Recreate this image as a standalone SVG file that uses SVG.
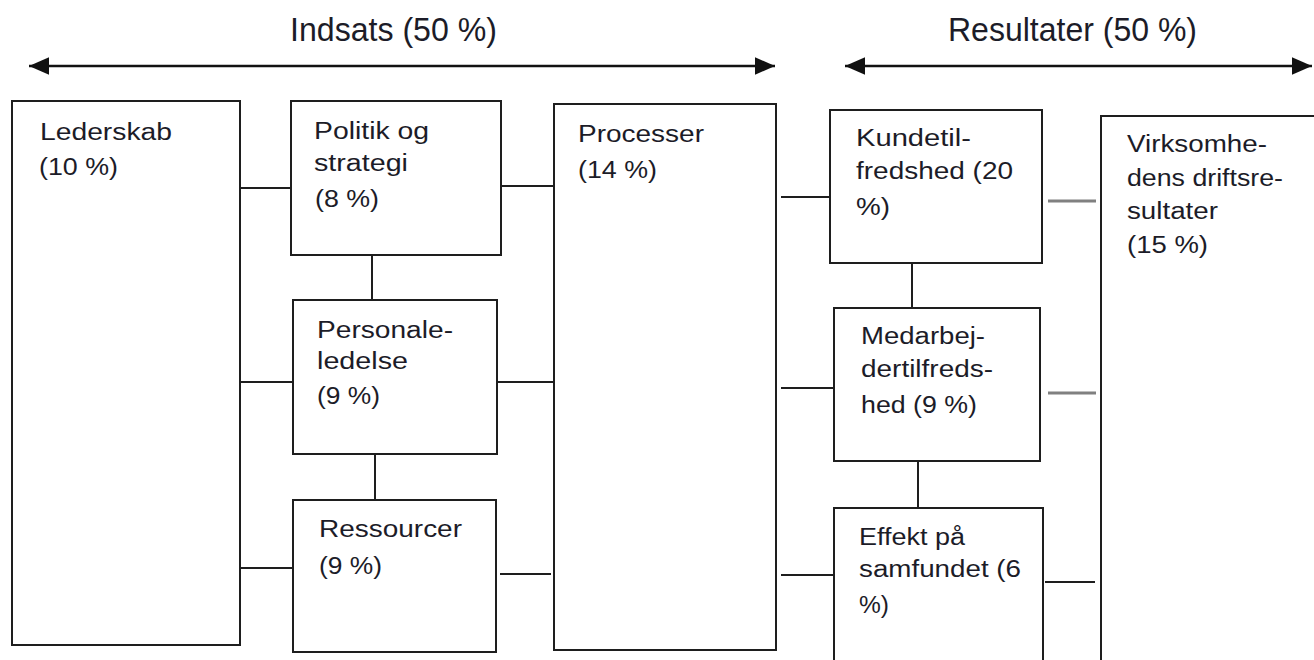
<svg xmlns="http://www.w3.org/2000/svg" width="1314" height="660" viewBox="0 0 1314 660">
<style>
.box{fill:#fff;stroke:#1e1e1e;stroke-width:2}
.t{font-family:"Liberation Sans",Arial,sans-serif;font-size:23px;fill:#1c1c28}
.h{font-family:"Liberation Sans",Arial,sans-serif;font-size:34px;fill:#1c1c28}
.c{stroke:#1e1e1e;stroke-width:2;fill:none}
.g{stroke:#808080;stroke-width:3;fill:none}
.a{stroke:#111;stroke-width:2.5;fill:none}
</style>
<defs>
<marker id="ah" viewBox="0 0 10 10" refX="10" refY="5" markerWidth="8" markerHeight="7" markerUnits="strokeWidth" orient="auto-start-reverse" preserveAspectRatio="none">
<path d="M0,0 L10,5 L0,10 z" fill="#111"/>
</marker>
</defs>
<rect width="1314" height="660" fill="#fff"/>

<g id="titles">
<text class="h" x="290" y="41" textLength="207" lengthAdjust="spacingAndGlyphs">Indsats (50 %)</text>
<text class="h" x="948" y="41" textLength="249" lengthAdjust="spacingAndGlyphs">Resultater (50 %)</text>
</g>

<g id="connectors">
<line class="a" x1="29" y1="66" x2="775" y2="66" marker-start="url(#ah)" marker-end="url(#ah)"/>
<line class="a" x1="845" y1="66" x2="1312" y2="66" marker-start="url(#ah)" marker-end="url(#ah)"/>
<line class="c" x1="240" y1="188" x2="291" y2="188"/>
<line class="c" x1="240" y1="382" x2="293" y2="382"/>
<line class="c" x1="240" y1="568" x2="293" y2="568"/>
<line class="c" x1="372" y1="255" x2="372" y2="300"/>
<line class="c" x1="375" y1="454" x2="375" y2="500"/>
<line class="c" x1="501" y1="186" x2="554" y2="186"/>
<line class="c" x1="497" y1="382" x2="554" y2="382"/>
<line class="c" x1="500" y1="574" x2="551" y2="574"/>
<line class="c" x1="781" y1="197" x2="830" y2="197"/>
<line class="c" x1="781" y1="388" x2="834" y2="388"/>
<line class="c" x1="781" y1="575" x2="834" y2="575"/>
<line class="c" x1="912" y1="263" x2="912" y2="308"/>
<line class="c" x1="918" y1="461" x2="918" y2="508"/>
<line class="g" x1="1048" y1="201" x2="1096" y2="201"/>
<line class="g" x1="1048" y1="393" x2="1096" y2="393"/>
<line class="c" x1="1045" y1="582" x2="1095" y2="582"/>
</g>

<g id="lederskab">
<rect class="box" x="12" y="101" width="228" height="544"/>
<text class="t" x="40" y="140" textLength="132" lengthAdjust="spacingAndGlyphs">Lederskab</text>
<text class="t" x="39" y="175" textLength="79" lengthAdjust="spacingAndGlyphs">(10 %)</text>
</g>

<g id="politik">
<rect class="box" x="291" y="101" width="210" height="154"/>
<text class="t" x="314" y="139" textLength="115" lengthAdjust="spacingAndGlyphs">Politik og</text>
<text class="t" x="314" y="171" textLength="94" lengthAdjust="spacingAndGlyphs">strategi</text>
<text class="t" x="315" y="207" textLength="64" lengthAdjust="spacingAndGlyphs">(8 %)</text>
</g>

<g id="personale">
<rect class="box" x="293" y="300" width="204" height="154"/>
<text class="t" x="317" y="338" textLength="136" lengthAdjust="spacingAndGlyphs">Personale-</text>
<text class="t" x="317" y="369" textLength="91" lengthAdjust="spacingAndGlyphs">ledelse</text>
<text class="t" x="317" y="404" textLength="63" lengthAdjust="spacingAndGlyphs">(9 %)</text>
</g>

<g id="ressourcer">
<rect class="box" x="293" y="500" width="203" height="152"/>
<text class="t" x="319" y="537" textLength="143" lengthAdjust="spacingAndGlyphs">Ressourcer</text>
<text class="t" x="319" y="574" textLength="63" lengthAdjust="spacingAndGlyphs">(9 %)</text>
</g>

<g id="processer">
<rect class="box" x="554" y="104" width="222" height="546"/>
<text class="t" x="578" y="142" textLength="126" lengthAdjust="spacingAndGlyphs">Processer</text>
<text class="t" x="578" y="178" textLength="79" lengthAdjust="spacingAndGlyphs">(14 %)</text>
</g>

<g id="kundetilfredshed">
<rect class="box" x="830" y="110" width="212" height="153"/>
<text class="t" x="856" y="146" textLength="115" lengthAdjust="spacingAndGlyphs">Kundetil-</text>
<text class="t" x="856" y="179" textLength="157" lengthAdjust="spacingAndGlyphs">fredshed (20</text>
<text class="t" x="856" y="215" textLength="34" lengthAdjust="spacingAndGlyphs">%)</text>
</g>

<g id="medarbejdertilfredshed">
<rect class="box" x="834" y="308" width="206" height="153"/>
<text class="t" x="861" y="344" textLength="124" lengthAdjust="spacingAndGlyphs">Medarbej-</text>
<text class="t" x="861" y="377" textLength="132" lengthAdjust="spacingAndGlyphs">dertilfreds-</text>
<text class="t" x="861" y="413" textLength="116" lengthAdjust="spacingAndGlyphs">hed (9 %)</text>
</g>

<g id="effekt">
<rect class="box" x="834" y="508" width="209" height="160"/>
<text class="t" x="859" y="545" textLength="106" lengthAdjust="spacingAndGlyphs">Effekt på</text>
<text class="t" x="859" y="577" textLength="162" lengthAdjust="spacingAndGlyphs">samfundet (6</text>
<text class="t" x="859" y="613" textLength="30" lengthAdjust="spacingAndGlyphs">%)</text>
</g>

<g id="virksomhedens">
<rect class="box" x="1101" y="116" width="230" height="560"/>
<text class="t" x="1127" y="152" textLength="140" lengthAdjust="spacingAndGlyphs">Virksomhe-</text>
<text class="t" x="1127" y="186" textLength="156" lengthAdjust="spacingAndGlyphs">dens driftsre-</text>
<text class="t" x="1127" y="219" textLength="91" lengthAdjust="spacingAndGlyphs">sultater</text>
<text class="t" x="1127" y="253" textLength="81" lengthAdjust="spacingAndGlyphs">(15 %)</text>
</g>
</svg>
